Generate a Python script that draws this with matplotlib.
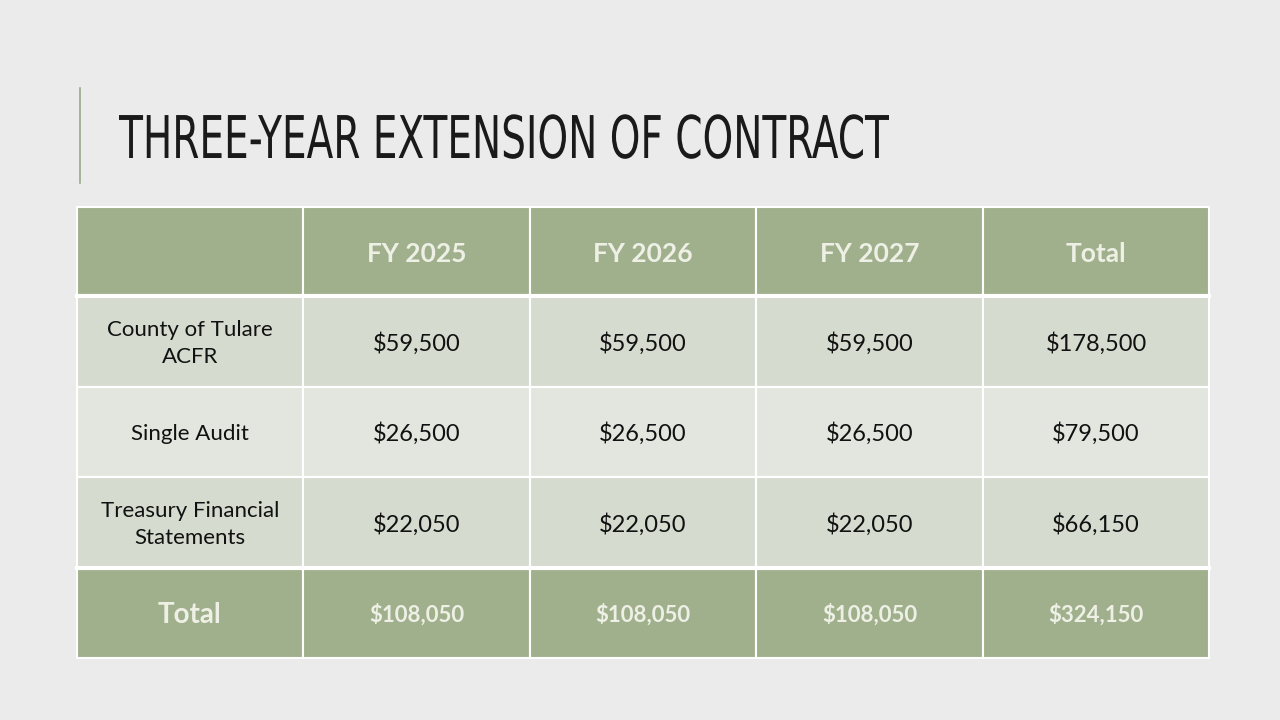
import matplotlib.pyplot as plt
from matplotlib.patches import Rectangle, PathPatch
from matplotlib.textpath import TextPath
from matplotlib.font_manager import FontProperties
from matplotlib.transforms import Affine2D

TITLE = "THREE-YEAR EXTENSION OF CONTRACT"
COLUMNS = ["", "FY 2025", "FY 2026", "FY 2027", "Total"]
ROW_LABELS = ["County of Tulare\nACFR", "Single Audit", "Treasury Financial\nStatements"]
FY2025 = [59500, 26500, 22050]
FY2026 = [59500, 26500, 22050]
FY2027 = [59500, 26500, 22050]

HEADER = "#a0b08c"
ROW_COLORS = ["#d5dbcf", "#e3e6df", "#d5dbcf"]
BG = "#ebebeb"

fig = plt.figure(figsize=(12.8, 7.2), dpi=100, facecolor=BG)
ax = fig.add_axes([0, 0, 1, 1])
ax.set_xlim(0, 1280)
ax.set_ylim(720, 0)
ax.axis("off")

ax.plot([80, 80], [88, 183], color="#9aa88a", lw=1.2)

# condensed title: text path squeezed horizontally
tp = TextPath((0, 0), TITLE, size=100, prop=FontProperties(family="DejaVu Sans"))
bb = tp.get_extents()
sx = 770 / bb.width
sy = 43 / 73.0
tr = Affine2D().translate(-bb.x0, 0).scale(sx, -sy).translate(119, 158)
ax.add_patch(PathPatch(tr.transform_path(tp), facecolor="#1a1a1a", lw=0))

xs = [77, 303, 530, 756, 983, 1209]
ys = [207, 296, 387, 477, 568, 658]


def cell(i, j, fill, text, **kw):
    x0, x1 = xs[j], xs[j + 1]
    y0, y1 = ys[i], ys[i + 1]
    ax.add_patch(Rectangle((x0, y0), x1 - x0, y1 - y0, facecolor=fill,
                           edgecolor="white", lw=1.5))
    ax.text((x0 + x1) / 2, (y0 + y1) / 2 + 2, text, ha="center", va="center",
            family="Lato", **kw)


fmt = lambda v: f"${v:,.0f}"
for j, c in enumerate(COLUMNS):
    cell(0, j, HEADER, c, fontsize=19, fontweight="bold", color="#eef0e6")

series = [FY2025, FY2026, FY2027]
for r, label in enumerate(ROW_LABELS):
    vals = [s[r] for s in series]
    cell(r + 1, 0, ROW_COLORS[r], label, fontsize=16, color="#111111", linespacing=1.4)
    for j, v in enumerate(vals + [sum(vals)]):
        cell(r + 1, j + 1, ROW_COLORS[r], fmt(v), fontsize=17, color="#111111")

totals = [sum(s) for s in series]
cell(4, 0, HEADER, "Total", fontsize=20, fontweight="bold", color="#eef0e6")
for j, v in enumerate(totals + [sum(totals)]):
    cell(4, j + 1, HEADER, fmt(v), fontsize=16, fontweight="bold", color="#eef0e6")

ax.plot([xs[0], xs[-1]], [ys[1], ys[1]], color="white", lw=3)
ax.plot([xs[0], xs[-1]], [ys[4], ys[4]], color="white", lw=3)

fig.savefig("out.png", dpi=100, facecolor=BG)
